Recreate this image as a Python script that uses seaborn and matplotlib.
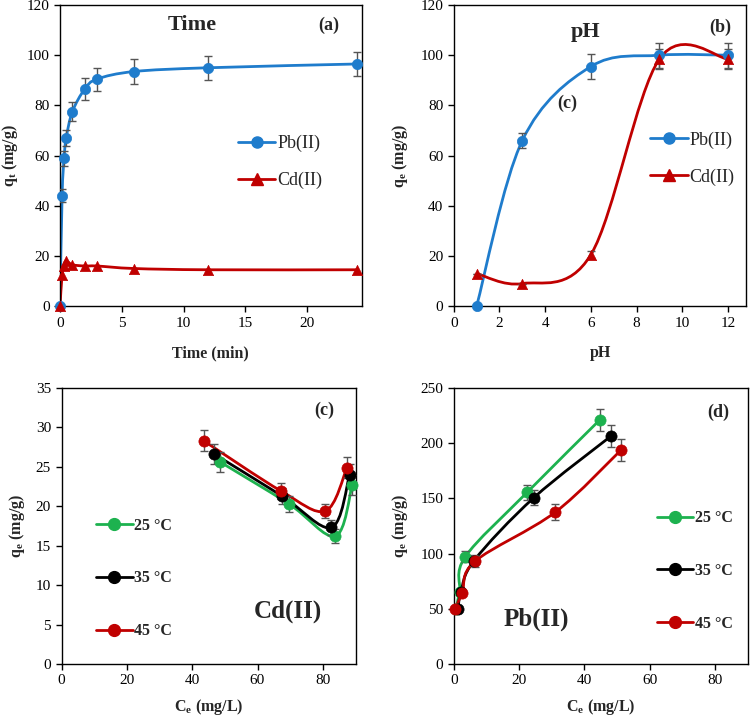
import numpy as np
import pandas as pd
import seaborn as sns
import matplotlib
matplotlib.use("Agg")
import matplotlib.pyplot as plt
from matplotlib.path import Path
from matplotlib.patches import PathPatch
from matplotlib.lines import Line2D

# (a) kinetics
time_h = [0, 0.17, 0.33, 0.5, 1, 2, 3, 6, 12, 24]
pb_time = [0, 44, 59, 67, 77.5, 86.5, 90.5, 93.5, 95, 96.5]
pb_time_err = [0, 2.5, 3, 3, 3.8, 4.3, 4.6, 4.8, 4.8, 4.8]
cd_time = [0, 12.5, 16, 18, 16.5, 16, 16, 15, 14.5, 14.5]

# (b) pH
ph = [1, 3, 6, 9, 12]
pb_ph = [0, 66, 95.5, 100, 100]
pb_ph_err = [0, 3, 5, 5, 5]
cd_ph = [13, 9, 20.5, 98.5, 98.5]
cd_ph_err = [0, 0, 1.5, 4, 4]

# (c) Cd(II) isotherms
cd_ce_25 = [48.6, 69.6, 83.8, 89.0]
cd_qe_25 = [25.6, 20.3, 16.2, 22.7]
cd_ce_35 = [46.8, 67.5, 82.6, 88.2]
cd_qe_35 = [26.6, 21.3, 17.3, 24.0]
cd_ce_45 = [43.5, 67.3, 80.8, 87.4]
cd_qe_45 = [28.3, 21.9, 19.4, 24.9]
cd_err = [1.3, 1.0, 0.9, 1.3]

# (d) Pb(II) isotherms
pb_ce_25 = [0.6, 1.8, 3.5, 22.5, 44.7]
pb_qe_25 = [50, 65.5, 97, 155.5, 221]
pb_ce_35 = [1.3, 2.2, 6.2, 24.5, 48.2]
pb_qe_35 = [49.5, 65, 93.5, 150.5, 206.5]
pb_ce_45 = [0.3, 2.6, 6.5, 31.1, 51.3]
pb_qe_45 = [49.5, 64.5, 93, 137.5, 194]
pb_err = [0, 2, 5, 7, 10]

temps = ["25 \u00b0C", "35 \u00b0C", "45 \u00b0C"]
col_blue = "#1f7ccc"
col_red = "#c00000"
col_green = "#1db24f"
col_black = "#000000"
col_err = "#555555"

sns.set_style("ticks")
plt.rcParams['font.family'] = ['Liberation Serif', 'DejaVu Serif']
plt.rcParams['mathtext.fontset'] = 'custom'
plt.rcParams['mathtext.rm'] = 'Liberation Serif'
plt.rcParams['mathtext.bf'] = 'Liberation Serif:bold'
plt.rcParams['font.size'] = 11


def smooth_path(x, y):
    # excel style smoothed line (bezier through the points)
    P = np.column_stack([x, y]).astype(float)
    n = len(P)
    verts = [P[0]]
    codes = [Path.MOVETO]
    for i in range(n - 1):
        p0 = P[i - 1] if i > 0 else P[i]
        p3 = P[i + 2] if i + 2 < n else P[i + 1]
        c1 = P[i] + (P[i + 1] - p0) / 6
        c2 = P[i + 1] - (p3 - P[i]) / 6
        verts += [c1, c2, P[i + 1]]
        codes += [Path.CURVE4] * 3
    return Path(verts, codes)


def series(ax, x, y, color, marker, err=None, ms=55):
    ax.add_patch(PathPatch(smooth_path(x, y), fill=False, edgecolor=color, lw=2, zorder=2))
    if err is not None:
        ax.errorbar(x, y, yerr=err, fmt='none', ecolor=col_err, elinewidth=1,
                    capsize=3, capthick=1, zorder=3)
    df = pd.DataFrame({"x": x, "y": y})
    sns.scatterplot(data=df, x="x", y="y", ax=ax, color=color, marker=marker, s=ms,
                    edgecolor=color, linewidth=0.5, zorder=4, clip_on=False)


def style(ax, xlim, ylim, xt, yt, xlabel, ylabel, ylab_x, xlab_y):
    ax.set_xlim(*xlim)
    ax.set_ylim(*ylim)
    ax.set_xticks(xt)
    ax.set_yticks(yt)
    for s in ax.spines.values():
        s.set_visible(True)
        s.set_color("black")
        s.set_linewidth(1)
    ax.tick_params(axis='both', which='both', direction='out', length=4, width=1,
                   labelsize=11, top=False, right=False, colors="black")
    ax.set_xlabel(xlabel, fontsize=11.5, fontweight='bold')
    ax.set_ylabel(ylabel, fontsize=11.5, fontweight='bold')
    ax.yaxis.set_label_coords(ylab_x, 0.5)
    ax.xaxis.set_label_coords(0.5, xlab_y)


fig = plt.figure(figsize=(7.5, 7.17), dpi=100)
ax_a = fig.add_axes([0.080, 0.573, 0.402, 0.420])
ax_b = fig.add_axes([0.605, 0.573, 0.390, 0.420])
ax_c = fig.add_axes([0.082, 0.074, 0.392, 0.385])
ax_d = fig.add_axes([0.605, 0.074, 0.392, 0.385])

# (a)
series(ax_a, time_h, pb_time, col_blue, 'o', pb_time_err)
series(ax_a, time_h, cd_time, col_red, '^')
style(ax_a, (0, 24.4), (0, 120), [0, 5, 10, 15, 20], range(0, 121, 20),
      "Time (min)", r"q$_\mathregular{t}$ (mg/g)", -0.132, -0.13)
ax_a.text(0.44, 0.934, "Time", transform=ax_a.transAxes, fontsize=16, fontweight='bold',
          ha='center', va='center')
ax_a.text(0.89, 0.934, "(a)", transform=ax_a.transAxes, fontsize=13, fontweight='bold',
          ha='center', va='center')
h = [Line2D([], [], color=col_blue, marker='o', ms=8, lw=2),
     Line2D([], [], color=col_red, marker='^', ms=8, lw=2)]
ax_a.legend(h, ["Pb(II)", "Cd(II)"], loc='center left', bbox_to_anchor=(0.535, 0.478),
            frameon=False, fontsize=13, handlelength=2.1, handletextpad=0.1,
            labelspacing=1.1, numpoints=1)

# (b)
series(ax_b, ph, pb_ph, col_blue, 'o', pb_ph_err)
series(ax_b, ph, cd_ph, col_red, '^', cd_ph_err)
style(ax_b, (0, 12.8), (0, 120), range(0, 13, 2), range(0, 121, 20),
      "pH", r"q$_\mathregular{e}$ (mg/g)", -0.151, -0.13)
ax_b.text(0.45, 0.91, "pH", transform=ax_b.transAxes, fontsize=16, fontweight='bold',
          ha='center', va='center')
ax_b.text(0.91, 0.927, "(b)", transform=ax_b.transAxes, fontsize=13, fontweight='bold',
          ha='center', va='center')
ax_b.text(0.387, 0.674, "(c)", transform=ax_b.transAxes, fontsize=13, fontweight='bold',
          ha='center', va='center')
ax_b.legend(h, ["Pb(II)", "Cd(II)"], loc='center left', bbox_to_anchor=(0.615, 0.49),
            frameon=False, fontsize=13, handlelength=2.1, handletextpad=0.1,
            labelspacing=1.1, numpoints=1)

# (c)
series(ax_c, cd_ce_25, cd_qe_25, col_green, 'o', cd_err, ms=65)
series(ax_c, cd_ce_35, cd_qe_35, col_black, 'o', cd_err, ms=65)
series(ax_c, cd_ce_45, cd_qe_45, col_red, 'o', cd_err, ms=65)
style(ax_c, (0, 90), (0, 35), range(0, 81, 20), range(0, 36, 5),
      r"C$_\mathregular{e}$ (mg/L)", r"q$_\mathregular{e}$ (mg/g)", -0.118, -0.12)
ax_c.text(0.895, 0.92, "(c)", transform=ax_c.transAxes, fontsize=13, fontweight='bold',
          ha='center', va='center')
ax_c.text(0.77, 0.19, "Cd(II)", transform=ax_c.transAxes, fontsize=18, fontweight='bold',
          ha='center', va='center')
h3 = [Line2D([], [], color=c, marker='o', ms=8.5, lw=2) for c in (col_green, col_black, col_red)]
leg = ax_c.legend(h3, temps, loc='center left', bbox_to_anchor=(0.068, 0.31),
                  frameon=False, fontsize=11.5, handlelength=2.3, handletextpad=0.1,
                  labelspacing=2.3, numpoints=1)
for t in leg.get_texts():
    t.set_fontweight('bold')

# (d)
series(ax_d, pb_ce_25, pb_qe_25, col_green, 'o', pb_err, ms=65)
series(ax_d, pb_ce_35, pb_qe_35, col_black, 'o', pb_err, ms=65)
series(ax_d, pb_ce_45, pb_qe_45, col_red, 'o', pb_err, ms=65)
style(ax_d, (0, 90), (0, 250), range(0, 81, 20), range(0, 251, 50),
      r"C$_\mathregular{e}$ (mg/L)", r"q$_\mathregular{e}$ (mg/g)", -0.15, -0.12)
ax_d.text(0.9, 0.913, "(d)", transform=ax_d.transAxes, fontsize=13, fontweight='bold',
          ha='center', va='center')
ax_d.text(0.28, 0.163, "Pb(II)", transform=ax_d.transAxes, fontsize=18, fontweight='bold',
          ha='center', va='center')
leg = ax_d.legend(h3, temps, loc='center left', bbox_to_anchor=(0.641, 0.337),
                  frameon=False, fontsize=11.5, handlelength=2.3, handletextpad=0.1,
                  labelspacing=2.3, numpoints=1)
for t in leg.get_texts():
    t.set_fontweight('bold')

fig.savefig("out.png", dpi=100)
